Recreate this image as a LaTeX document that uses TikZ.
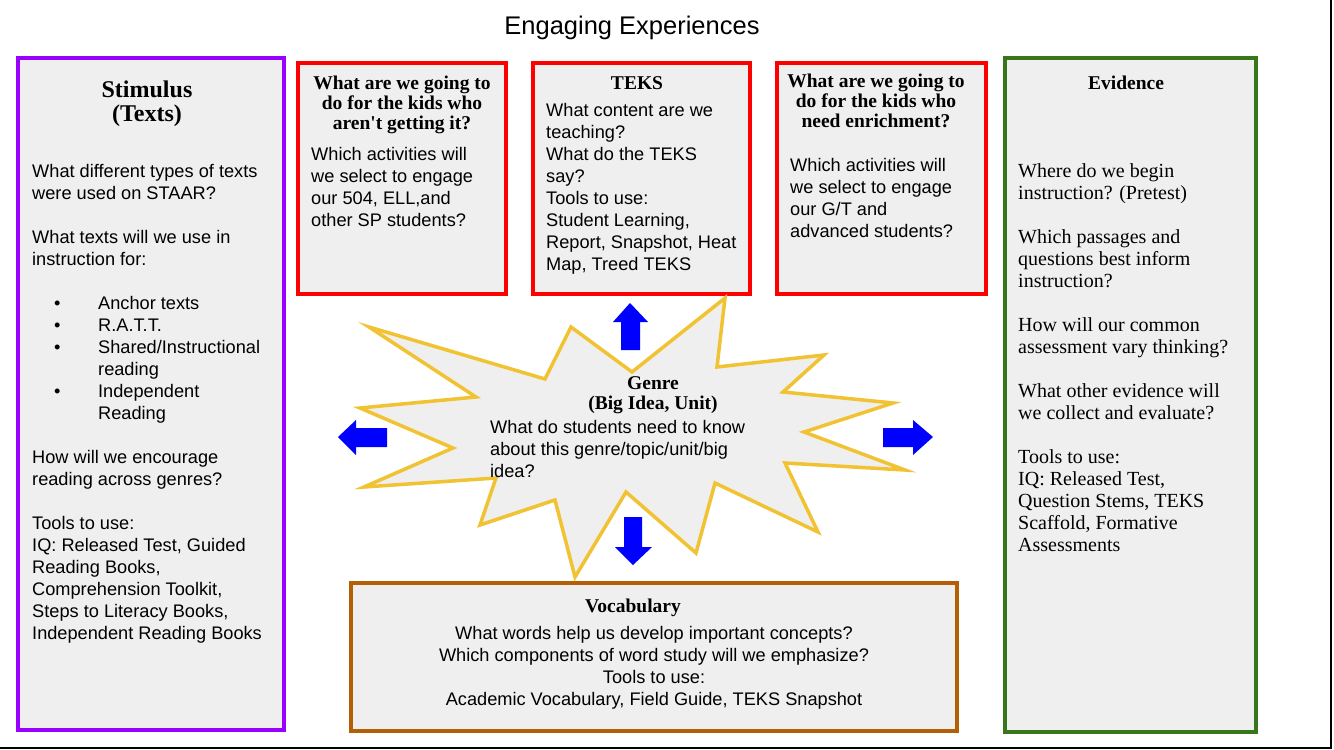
\documentclass[tikz,border=0pt]{standalone}
\usepackage{fontspec}
\setmainfont{Liberation Sans}
\newfontfamily\headfont{Liberation Serif}
\definecolor{boxgray}{RGB}{239,239,239}
\definecolor{boxred}{RGB}{255,0,0}
\definecolor{boxpurple}{RGB}{153,0,255}
\definecolor{boxgreen}{RGB}{56,118,29}
\definecolor{boxorange}{RGB}{180,95,6}
\definecolor{staryellow}{RGB}{241,194,50}
\definecolor{arrowblue}{RGB}{0,0,255}
\tikzset{
  panel/.style={draw, line width=4pt, fill=boxgray},
  txt/.style={anchor=north west, align=left, font=\fontsize{18.2}{22}\selectfont, inner sep=0pt},
  head/.style={align=center, font=\headfont\bfseries\fontsize{19.5}{20}\selectfont, inner sep=0pt},
  blockarrow/.style={fill=arrowblue, draw=none}
}
\newcommand{\bulletitem}{\makebox[66pt][l]{\hspace*{22pt}\textbullet}}
\begin{document}
\begin{tikzpicture}[x=1pt,y=-1pt]
    \useasboundingbox (0,0) rectangle (1334,750);
    \fill[white] (0,0) rectangle (1334,750);
    % frame shadow
    \draw[line width=1.5pt] (1331,0) -- (1331,748) -- (0,748);

    % title
    \node[font=\fontsize{25.5}{28}\selectfont] (title) at (632,28) {Engaging Experiences};

    % stimulus panel
    \draw[panel, draw=boxpurple] (18,58) rectangle (284,730);
    \node[head, font=\headfont\bfseries\fontsize{24}{24}\selectfont] (stimhead) at (147,104) {Stimulus\\(Texts)};
    \node[txt] (stimtxt) at (32,164) {What different types of texts\\were used on STAAR?\\[22pt]
      What texts will we use in\\instruction for:\\[22pt]
      \bulletitem Anchor texts\\
      \bulletitem R.A.T.T.\\
      \bulletitem Shared/Instructional\\
      \hspace*{66pt}reading\\
      \bulletitem Independent\\
      \hspace*{66pt}Reading\\[22pt]
      How will we encourage\\reading across genres?\\[22pt]
      Tools to use:\\IQ: Released Test, Guided\\Reading Books,\\Comprehension Toolkit,\\Steps to Literacy Books,\\Independent Reading Books};

    % intervention panel
    \draw[panel, draw=boxred] (298,63) rectangle (506,294);
    \node[head] (inthead) at (402,105) {What are we going to\\do for the kids who\\aren't getting it?};
    \node[txt] (inttxt) at (311,147) {Which activities will\\we select to engage\\our 504, ELL,and\\other SP students?};

    % TEKS panel
    \draw[panel, draw=boxred] (533,63) rectangle (750,294);
    \node[head] (tekshead) at (637,83) {TEKS};
    \node[txt] (tekstxt) at (546,103) {What content are we\\teaching?\\What do the TEKS\\say?\\Tools to use:\\Student Learning,\\Report, Snapshot, Heat\\Map, Treed TEKS};

    % enrichment panel
    \draw[panel, draw=boxred] (777,63) rectangle (986,294);
    \node[head] (enrhead) at (876,101) {What are we going to\\do for the kids who\\need enrichment?};
    \node[txt] (enrtxt) at (790,158) {Which activities will\\we select to engage\\our G/T and\\advanced students?};

    % evidence panel
    \draw[panel, draw=boxgreen] (1005,58) rectangle (1256,732);
    \node[head] (evhead) at (1126,83) {Evidence};
    \node[txt, font=\headfont\fontsize{20}{22}\selectfont] (evtxt) at (1018,163) {Where do we begin\\instruction? (Pretest)\\[22pt]
      Which passages and\\questions best inform\\instruction?\\[22pt]
      How will our common\\assessment vary thinking?\\[22pt]
      What other evidence will\\we collect and evaluate?\\[22pt]
      Tools to use:\\IQ: Released Test,\\Question Stems, TEKS\\Scaffold, Formative\\Assessments};

    % vocabulary panel
    \draw[panel, draw=boxorange] (351,583) rectangle (957,731);
    \node[head] (vochead) at (633,608) {Vocabulary};
    \node[align=center, font=\fontsize{18.2}{22}\selectfont, inner sep=0pt, anchor=north] (voctxt) at (654,626) {What words help us develop important concepts?\\Which components of word study will we emphasize?\\Tools to use:\\Academic Vocabulary, Field Guide, TEKS Snapshot};

    % genre star
    \draw[draw=staryellow, fill=boxgray, line width=3.5pt, line join=miter]
      (369,327) -- (545,379) -- (571,327) -- (632,372) -- (725,298) -- (717,367)
      -- (824,355) -- (783,392) -- (893,403) -- (804,432) -- (905,470) -- (785,463)
      -- (818,532) -- (715,483) -- (696,553) -- (626,492) -- (575,577) -- (555,500)
      -- (480,525) -- (496,478) -- (364,487) -- (453,448) -- (360,408) -- (476,397) -- cycle;
    \node[head] (genrehead) at (653,395) {Genre\\(Big Idea, Unit)};
    \node[txt] (genretxt) at (490,420) {What do students need to know\\about this genre/topic/unit/big\\idea?};

    % block arrows
    \fill[blockarrow] (621,350) -- (621,322) -- (613,322) -- (630,303) -- (648,322) -- (640,322) -- (640,350) -- cycle;
    \fill[blockarrow] (387,428) -- (356,428) -- (356,420) -- (338,437) -- (356,455) -- (356,447) -- (387,447) -- cycle;
    \fill[blockarrow] (883,428) -- (913,428) -- (913,420) -- (933,437) -- (913,455) -- (913,447) -- (883,447) -- cycle;
    \fill[blockarrow] (624,517) -- (624,547) -- (615,547) -- (633,565) -- (652,547) -- (642,547) -- (642,517) -- cycle;
\end{tikzpicture}
\end{document}
